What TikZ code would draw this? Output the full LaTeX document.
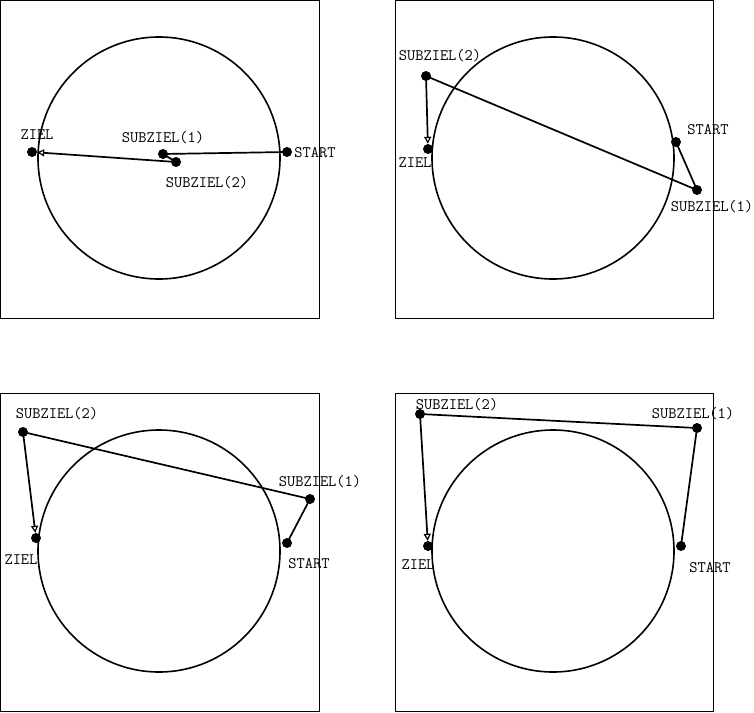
\documentclass[tikz,border=0pt]{standalone}
\usetikzlibrary{arrows.meta}
\begin{document}
\begin{tikzpicture}[x=1pt,y=-1pt,
  frame/.style={draw,line width=0.9pt},
  ring/.style={draw,line width=1.6pt},
  pt/.style={circle,fill=black,inner sep=0pt,minimum size=10pt},
  lbl/.style={font=\ttfamily\fontsize{16}{17}\selectfont,inner sep=0pt},
  path/.style={line width=1.7pt},
  goal/.style={line width=1.7pt,-{Triangle[open,length=7pt,width=7pt,line width=1.2pt]}}]
\useasboundingbox (0,0) rectangle (754,712);
% panel 1
\draw[frame] (0.5,0.5) rectangle (319,318);
\draw[ring] (159,158) circle (121);
\node[pt] (z1) at (32,152) {};
\node[pt] (a1) at (163,154) {};
\node[pt] (b1) at (176,162) {};
\node[pt] (s1) at (287,152) {};
\node[lbl] (lz1) at (37,135) {ZIEL};
\node[lbl] (la1) at (163,138) {SUBZIEL(1)};
\node[lbl] (lb1) at (207,183) {SUBZIEL(2)};
\node[lbl] (ls1) at (315,153) {START};
\draw[path] (s1.center) -- (a1.center) -- (b1.center);
\draw[goal] (b1.center) -- (z1);
% panel 2
\draw[frame] (395,0.5) rectangle (713,318);
\draw[ring] (553,158) circle (121);
\node[pt] (z2) at (428,149) {};
\node[pt] (a2) at (697,190) {};
\node[pt] (b2) at (426,76) {};
\node[pt] (s2) at (676,142) {};
\node[lbl] (lz2) at (415,163) {ZIEL};
\node[lbl] (la2) at (712,207) {SUBZIEL(1)};
\node[lbl] (lb2) at (440,56) {SUBZIEL(2)};
\node[lbl] (ls2) at (708,130) {START};
\draw[path] (s2.center) -- (a2.center) -- (b2.center);
\draw[goal] (b2.center) -- (z2);
% panel 3
\draw[frame] (0.5,393) rectangle (319,711);
\draw[ring] (159,551) circle (121);
\node[pt] (z3) at (36,538) {};
\node[pt] (a3) at (310,499) {};
\node[pt] (b3) at (23,432) {};
\node[pt] (s3) at (287,543) {};
\node[lbl] (lz3) at (21,560) {ZIEL};
\node[lbl] (la3) at (320,482) {SUBZIEL(1)};
\node[lbl] (lb3) at (57,414) {SUBZIEL(2)};
\node[lbl] (ls3) at (309,564) {START};
\draw[path] (s3.center) -- (a3.center) -- (b3.center);
\draw[goal] (b3.center) -- (z3);
% panel 4
\draw[frame] (395,393) rectangle (713,711);
\draw[ring] (553,551) circle (121);
\node[pt] (z4) at (428,546) {};
\node[pt] (a4) at (697,428) {};
\node[pt] (b4) at (420,414) {};
\node[pt] (s4) at (681,546) {};
\node[lbl] (lz4) at (418,565) {ZIEL};
\node[lbl] (la4) at (693,414) {SUBZIEL(1)};
\node[lbl] (lb4) at (457,405) {SUBZIEL(2)};
\node[lbl] (ls4) at (710,568) {START};
\draw[path] (s4.center) -- (a4.center) -- (b4.center);
\draw[goal] (b4.center) -- (z4);
\end{tikzpicture}
\end{document}
